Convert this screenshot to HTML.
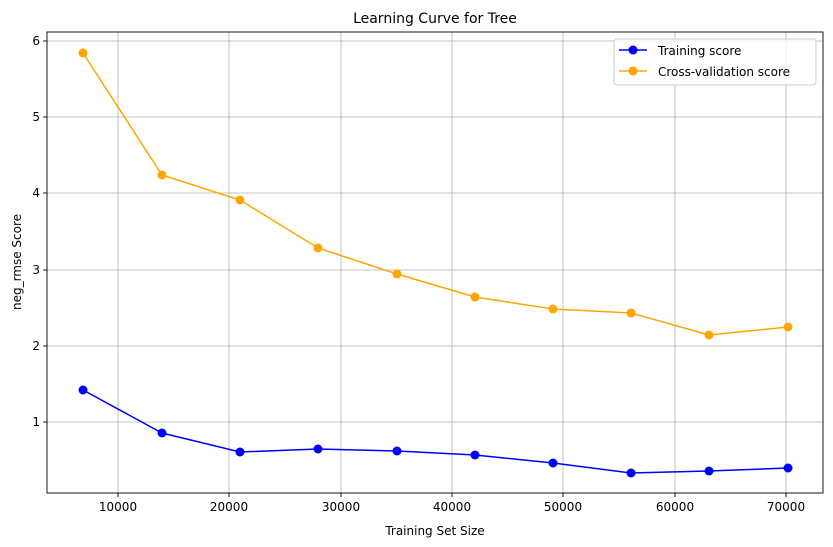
<!DOCTYPE html>
<html><head><meta charset="utf-8"><style>body{margin:0;background:#fff}svg{display:block}text{font-family:"DejaVu Sans","Liberation Sans",sans-serif;fill:#000}</style></head>
<body>
<svg width="833" height="547" viewBox="0 0 833 547" xmlns="http://www.w3.org/2000/svg">
<rect width="833" height="547" fill="#fff"/>
<g stroke="#b0b0b0" stroke-width="0.8">
<line x1="118" y1="32" x2="118" y2="493"/><line x1="229" y1="32" x2="229" y2="493"/><line x1="341" y1="32" x2="341" y2="493"/><line x1="452" y1="32" x2="452" y2="493"/><line x1="563" y1="32" x2="563" y2="493"/><line x1="675" y1="32" x2="675" y2="493"/><line x1="786" y1="32" x2="786" y2="493"/>
<line x1="47" y1="41" x2="823" y2="41"/><line x1="47" y1="117" x2="823" y2="117"/><line x1="47" y1="193" x2="823" y2="193"/><line x1="47" y1="270" x2="823" y2="270"/><line x1="47" y1="346" x2="823" y2="346"/><line x1="47" y1="422" x2="823" y2="422"/>
</g>
<rect x="47" y="32" width="776" height="461" fill="none" stroke="#000" stroke-width="0.9"/>
<g stroke="#000" stroke-width="0.9">
<line x1="118" y1="493" x2="118" y2="497"/><line x1="229" y1="493" x2="229" y2="497"/><line x1="341" y1="493" x2="341" y2="497"/><line x1="452" y1="493" x2="452" y2="497"/><line x1="563" y1="493" x2="563" y2="497"/><line x1="675" y1="493" x2="675" y2="497"/><line x1="786" y1="493" x2="786" y2="497"/>
<line x1="43" y1="41" x2="47" y2="41"/><line x1="43" y1="117" x2="47" y2="117"/><line x1="43" y1="193" x2="47" y2="193"/><line x1="43" y1="270" x2="47" y2="270"/><line x1="43" y1="346" x2="47" y2="346"/><line x1="43" y1="422" x2="47" y2="422"/>
</g>
<g font-size="12" text-anchor="middle">
<text x="118" y="511">10000</text><text x="229" y="511">20000</text><text x="341" y="511">30000</text><text x="452" y="511">40000</text><text x="563" y="511">50000</text><text x="675" y="511">60000</text><text x="786" y="511">70000</text>
</g>
<g font-size="12" text-anchor="end">
<text x="40" y="45">6</text><text x="40" y="121">5</text><text x="40" y="197">4</text><text x="40" y="274">3</text><text x="40" y="350">2</text><text x="40" y="426">1</text>
</g>
<text x="435" y="535" font-size="12" text-anchor="middle">Training Set Size</text>
<text transform="translate(21,262) rotate(-90)" font-size="12" text-anchor="middle">neg_rmse Score</text>
<text x="435" y="23" font-size="14" text-anchor="middle">Learning Curve for Tree</text>
<polyline fill="none" stroke="#0000ff" stroke-width="1.5" points="83,390 162,433 240,452 318,449 397,451 475,455 553,463 631,473 709,471 788,468"/>
<g fill="#0000ff"><circle cx="83" cy="390" r="4.5"/><circle cx="162" cy="433" r="4.5"/><circle cx="240" cy="452" r="4.5"/><circle cx="318" cy="449" r="4.5"/><circle cx="397" cy="451" r="4.5"/><circle cx="475" cy="455" r="4.5"/><circle cx="553" cy="463" r="4.5"/><circle cx="631" cy="473" r="4.5"/><circle cx="709" cy="471" r="4.5"/><circle cx="788" cy="468" r="4.5"/></g>
<polyline fill="none" stroke="#ffa500" stroke-width="1.5" points="83,53 162,175 240,200 318,248 397,274 475,297 553,309 631,313 709,335 788,327"/>
<g fill="#ffa500"><circle cx="83" cy="53" r="4.5"/><circle cx="162" cy="175" r="4.5"/><circle cx="240" cy="200" r="4.5"/><circle cx="318" cy="248" r="4.5"/><circle cx="397" cy="274" r="4.5"/><circle cx="475" cy="297" r="4.5"/><circle cx="553" cy="309" r="4.5"/><circle cx="631" cy="313" r="4.5"/><circle cx="709" cy="335" r="4.5"/><circle cx="788" cy="327" r="4.5"/></g>
<rect x="614" y="39" width="202" height="46" rx="3" fill="#fff" fill-opacity="0.8" stroke="#ccc"/>
<line x1="619" y1="50" x2="647" y2="50" stroke="#0000ff" stroke-width="1.5"/><circle cx="633" cy="50" r="4.5" fill="#0000ff"/>
<text x="658" y="55" font-size="12">Training score</text>
<line x1="619" y1="71" x2="647" y2="71" stroke="#ffa500" stroke-width="1.5"/><circle cx="633" cy="71" r="4.5" fill="#ffa500"/>
<text x="658" y="76" font-size="12">Cross-validation score</text>
</svg>
</body></html>
